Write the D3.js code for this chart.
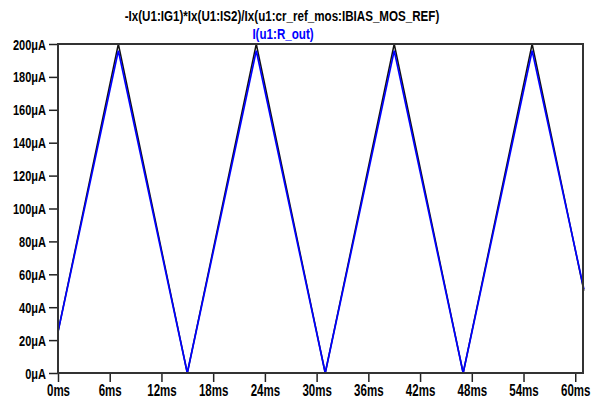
<!DOCTYPE html>
<html>
<head>
<meta charset="utf-8">
<script src="https://cdn.jsdelivr.net/npm/d3@7"></script>
<style>
  body { margin: 0; background: #fff; }
  svg { display: block; }
  .lbl { font-family: "Liberation Sans", Arial, sans-serif; font-weight: bold; }
</style>
</head>
<body>
<div id="chart"></div>
<script>
// data
var timeMs     = [0, 7, 15, 23, 31, 39, 47, 55, 61];
var refCurrent = [25, 200, 0, 200, 0, 200, 0, 200, 50];   // black trace, uA
var outCurrent = [25, 196, 0, 196, 0, 196, 0, 196, 51];   // blue trace, uA
var xTicks = [0, 6, 12, 18, 24, 30, 36, 42, 48, 54, 60];
var yTicks = [0, 20, 40, 60, 80, 100, 120, 140, 160, 180, 200];
var titleLines = ["-Ix(U1:IG1)*Ix(U1:IS2)/Ix(u1:cr_ref_mos:IBIAS_MOS_REF)", "I(u1:R_out)"];

var width = 592, height = 405;
var plotLeft = 58, plotRight = 583, plotTop = 44, plotBottom = 373;

var x = d3.scaleLinear().domain([0, 60.9]).range([plotLeft, plotRight]);
var y = d3.scaleLinear().domain([0, 200]).range([plotBottom, plotTop]);

var svg = d3.select("#chart").append("svg")
    .attr("width", width)
    .attr("height", height);

// squeeze text horizontally, the original font is a narrow one
var condense = function(sel, f) {
  sel.each(function() {
    var w = this.getComputedTextLength();
    d3.select(this).attr("textLength", w * f).attr("lengthAdjust", "spacingAndGlyphs");
  });
};

// titles
svg.append("text").attr("class", "lbl")
    .attr("x", 282).attr("y", 21)
    .attr("text-anchor", "middle")
    .attr("font-size", 14.5)
    .attr("fill", "#000")
    .text(titleLines[0])
    .call(condense, 0.8);
svg.append("text").attr("class", "lbl")
    .attr("x", 283).attr("y", 39)
    .attr("text-anchor", "middle")
    .attr("font-size", 14.5)
    .attr("fill", "#0000ff")
    .text(titleLines[1])
    .call(condense, 0.8);

// traces
var line = d3.line()
    .x(function(d, i) { return x(timeMs[i]); })
    .y(function(d) { return y(d); });

svg.append("path")
    .attr("d", line(refCurrent))
    .attr("fill", "none")
    .attr("stroke", "#111")
    .attr("stroke-width", 1.5);

svg.append("path")
    .attr("d", line(outCurrent))
    .attr("fill", "none")
    .attr("stroke", "#0000ff")
    .attr("stroke-width", 1.7);

// axes
var xAxis = d3.axisBottom(x)
    .tickValues(xTicks)
    .tickSize(9)
    .tickSizeOuter(0)
    .tickFormat(function(d) { return d + "ms"; });
var yAxis = d3.axisLeft(y)
    .tickValues(yTicks)
    .tickSize(9)
    .tickSizeOuter(0)
    .tickFormat(function(d) { return d + "\u03bcA"; });

var gx = svg.append("g").attr("transform", "translate(0," + plotBottom + ")").call(xAxis);
var gy = svg.append("g").attr("transform", "translate(" + plotLeft + ",0)").call(yAxis);

[gx, gy].forEach(function(g) {
  g.select(".domain").remove();
  g.selectAll("line").attr("stroke", "#222").attr("stroke-width", 1.5);
  g.selectAll("text").attr("class", "lbl").attr("fill", "#000");
});
gx.selectAll("text").attr("font-size", 16).attr("y", 12).attr("dy", "0.71em").call(condense, 0.72);
gy.selectAll("text").attr("font-size", 14.5).attr("x", -12).attr("dy", "0.35em").call(condense, 0.76);

// last x label sits against the right edge
var lastX = gx.selectAll(".tick text").filter(function(d) { return d === 60; });
lastX.attr("text-anchor", "end").attr("x", +lastX.attr("textLength") / 2);

// frame
svg.append("rect")
    .attr("x", plotLeft).attr("y", plotTop)
    .attr("width", plotRight - plotLeft).attr("height", plotBottom - plotTop)
    .attr("fill", "none")
    .attr("stroke", "#333")
    .attr("stroke-width", 2);
</script>
</body>
</html>
